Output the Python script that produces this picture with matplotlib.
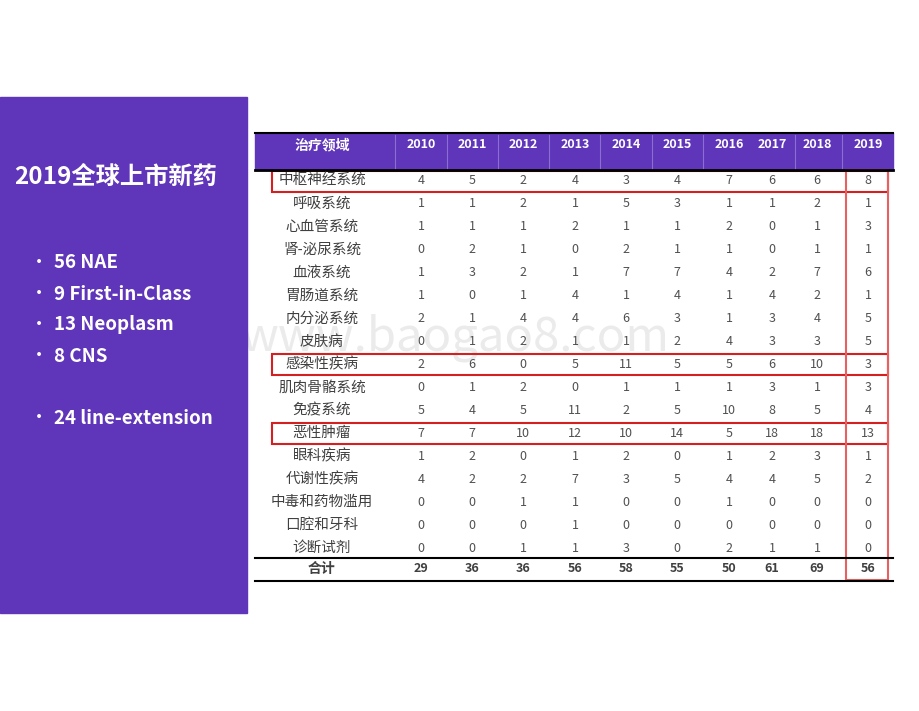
import matplotlib.pyplot as plt
from matplotlib.patches import Rectangle

plt.rcParams['font.family'] = ['Noto Sans CJK SC', 'DejaVu Sans']

# 数据
years = ['2010', '2011', '2012', '2013', '2014', '2015', '2016', '2017', '2018', '2019']
areas = ['中枢神经系统', '呼吸系统', '心血管系统', '肾-泌尿系统', '血液系统', '胃肠道系统',
         '内分泌系统', '皮肤病', '感染性疾病', '肌肉骨骼系统', '免疫系统', '恶性肿瘤',
         '眼科疾病', '代谢性疾病', '中毒和药物滥用', '口腔和牙科', '诊断试剂']
counts = [
    [4, 5, 2, 4, 3, 4, 7, 6, 6, 8],
    [1, 1, 2, 1, 5, 3, 1, 1, 2, 1],
    [1, 1, 1, 2, 1, 1, 2, 0, 1, 3],
    [0, 2, 1, 0, 2, 1, 1, 0, 1, 1],
    [1, 3, 2, 1, 7, 7, 4, 2, 7, 6],
    [1, 0, 1, 4, 1, 4, 1, 4, 2, 1],
    [2, 1, 4, 4, 6, 3, 1, 3, 4, 5],
    [0, 1, 2, 1, 1, 2, 4, 3, 3, 5],
    [2, 6, 0, 5, 11, 5, 5, 6, 10, 3],
    [0, 1, 2, 0, 1, 1, 1, 3, 1, 3],
    [5, 4, 5, 11, 2, 5, 10, 8, 5, 4],
    [7, 7, 10, 12, 10, 14, 5, 18, 18, 13],
    [1, 2, 0, 1, 2, 0, 1, 2, 3, 1],
    [4, 2, 2, 7, 3, 5, 4, 4, 5, 2],
    [0, 0, 1, 1, 0, 0, 1, 0, 0, 0],
    [0, 0, 0, 1, 0, 0, 0, 0, 0, 0],
    [0, 0, 1, 1, 3, 0, 2, 1, 1, 0],
]
totals = [29, 36, 36, 56, 58, 55, 50, 61, 69, 56]
highlight_rows = ['中枢神经系统', '感染性疾病', '恶性肿瘤']
bullets = ['56 NAE', '9 First-in-Class', '13 Neoplasm', '8 CNS', '', '24 line-extension']

purple = '#5F35BA'
fig = plt.figure(figsize=(9.2, 7.11), dpi=100)
ax = fig.add_axes([0, 0, 1, 1])
ax.set_xlim(0, 920)
ax.set_ylim(711, 0)
ax.axis('off')

# 左侧面板
ax.add_patch(Rectangle((0, 97), 247, 516, color=purple))
ax.text(14, 177, '2019全球上市新药', color='white', fontsize=17.5, fontweight='bold',
        ha='left', va='center')
for i, b in enumerate(bullets):
    if not b:
        continue
    y = 263 + i * 31
    ax.text(30, y, '•', color='white', fontsize=13, va='center')
    ax.text(54, y, b, color='white', fontsize=13.5, fontweight='bold', va='center')

# 水印
ax.text(455, 338, 'www.baogao8.com', color='#ebebeb', fontsize=34, ha='center',
        va='center', zorder=0)

# 表头
col_x = [421, 472, 523, 575, 626, 677, 729, 772, 817, 868]
label_x = 322
ax.add_patch(Rectangle((255, 133), 638, 37, color=purple))
ax.text(label_x, 145, '治疗领域', color='white', fontsize=10, fontweight='bold', ha='center', va='center')
for x, yr in zip(col_x, years):
    ax.text(x, 145, yr, color='white', fontsize=9, fontweight='bold', ha='center', va='center')
for x in [395, 447, 498, 549, 600, 652, 703, 795, 842]:
    ax.plot([x, x], [135, 170], color='#8a6fd0', lw=0.8)
ax.plot([255, 893], [133, 133], color='black', lw=1.5)
ax.plot([255, 893], [170, 170], color='black', lw=2)

# 数据行
row_y0, row_h = 181, 22.94
for r, (name, vals) in enumerate(zip(areas, counts)):
    y = row_y0 + r * row_h
    ax.text(label_x, y, name, color='#404040', fontsize=10.5, ha='center', va='center')
    for x, v in zip(col_x, vals):
        ax.text(x, y, str(v), color='#505050', fontsize=9, ha='center', va='center')
    if name in highlight_rows:
        ax.add_patch(Rectangle((272, y - 10.5), 616, 21, fill=False, ec='#d42020', lw=1.5))

# 合计
ty = 569
ax.plot([255, 893], [558, 558], color='black', lw=1.5)
ax.plot([255, 893], [581, 581], color='black', lw=1.5)
ax.text(label_x, ty, '合计', color='#404040', fontsize=10, fontweight='bold', ha='center', va='center')
for x, v in zip(col_x, totals):
    ax.text(x, ty, str(v), color='#404040', fontsize=9, fontweight='bold', ha='center', va='center')

# 2019 列框
ax.add_patch(Rectangle((846, 170), 42, 410, fill=False, ec='#e86060', lw=1.5))

fig.savefig('out.png', dpi=100)
